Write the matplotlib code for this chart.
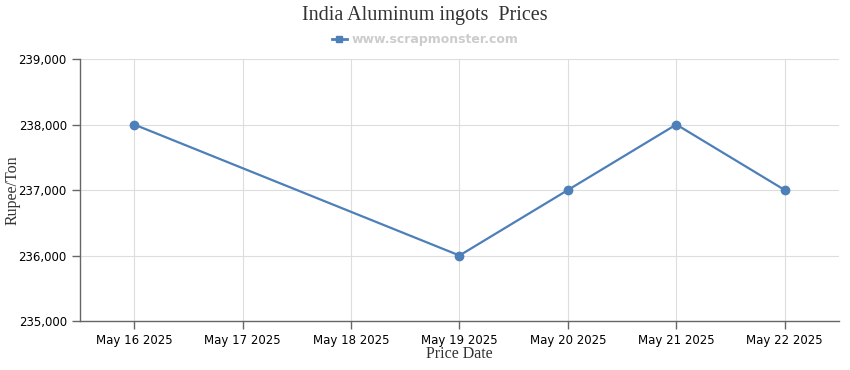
import matplotlib.pyplot as plt
from matplotlib.lines import Line2D

dates = ['May 16 2025', 'May 17 2025', 'May 18 2025', 'May 19 2025',
         'May 20 2025', 'May 21 2025', 'May 22 2025']
price_dates = ['May 16 2025', 'May 19 2025', 'May 20 2025', 'May 21 2025', 'May 22 2025']
prices = [238000, 236000, 237000, 238000, 237000]
yticks = [235000, 236000, 237000, 238000, 239000]

color = '#4d7fb8'
axis_color = '#666666'

fig = plt.figure(figsize=(8.5, 3.7), dpi=100)
ax = fig.add_axes([0.0941, 0.1324, 0.8929, 0.7081])

xpos = [dates.index(d) for d in price_dates]
ax.plot(xpos, prices, color=color, lw=1.6, marker='o', ms=6, zorder=3)

ax.set_xlim(-0.5, len(dates) - 0.5)
ax.set_ylim(yticks[0], yticks[-1])
ax.set_xticks(range(len(dates)))
ax.set_xticklabels(dates, fontsize=8.5, family='DejaVu Sans')
ax.set_yticks(yticks)
ax.set_yticklabels([f'{v:,}' for v in yticks], fontsize=8.5, family='DejaVu Sans')
ax.grid(True, color='#dddddd', lw=0.8)
ax.set_axisbelow(True)

for s in ['top', 'right']:
    ax.spines[s].set_visible(False)
for s in ['left', 'bottom']:
    ax.spines[s].set_color(axis_color)
    ax.spines[s].set_linewidth(1)
ax.tick_params(colors=axis_color, labelcolor='black', length=6, width=1)

# axis titles placed in figure pixels to match the reference
fig.text(459 / 850, 1 - 354 / 370, 'Price Date', ha='center', va='center',
         family='Liberation Serif', fontsize=11.5, color='#333333')
fig.text(13 / 850, 1 - 190 / 370, 'Rupee/Ton', ha='center', va='center', rotation=90,
         family='Liberation Serif', fontsize=11.5, color='#333333')

fig.text(0.5, 0.957, 'India Aluminum ingots  Prices', ha='center', va='center',
         family='Liberation Serif', fontsize=14.5, color='#333333')

handle = Line2D([], [], color=color, lw=2, marker='s', ms=5)
ax.legend([handle], ['www.scrapmonster.com'], loc='center', bbox_to_anchor=(0.5, 0.892),
          bbox_transform=fig.transFigure, frameon=False, handlelength=1.2, handletextpad=0.4,
          prop={'family': 'DejaVu Sans', 'weight': 'bold', 'size': 9}, labelcolor='#cccccc')

fig.savefig('out.png', dpi=100)
